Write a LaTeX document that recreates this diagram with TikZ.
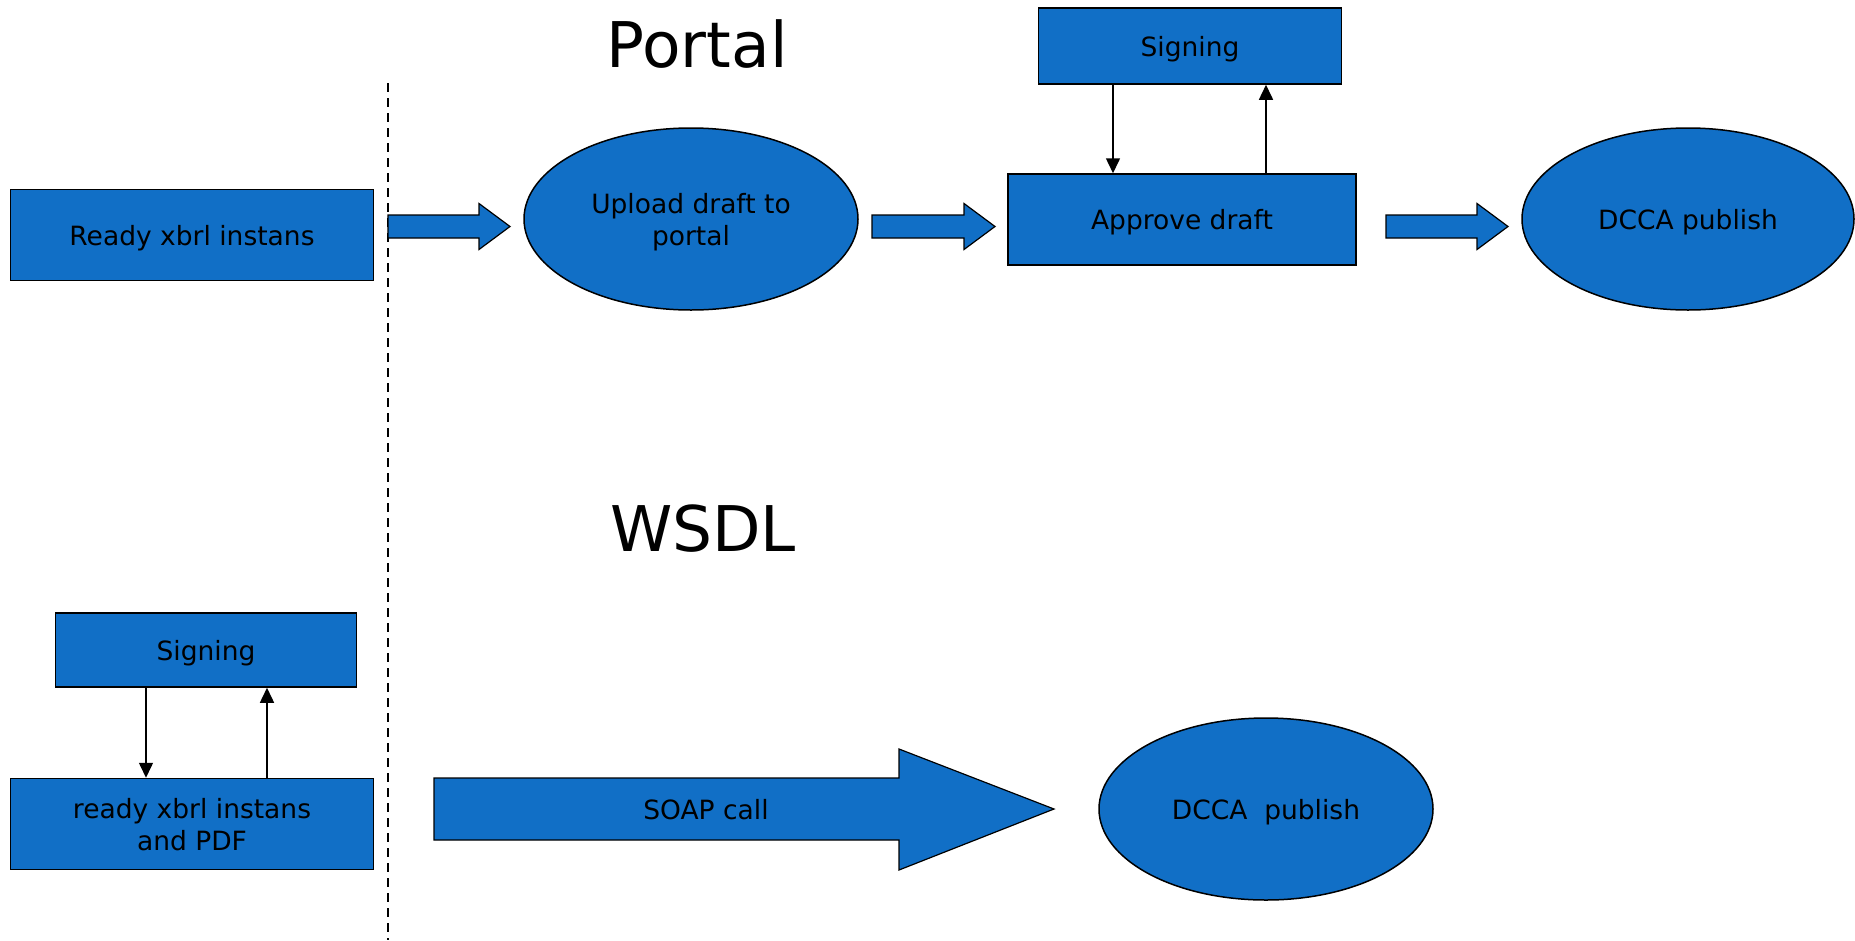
\documentclass[tikz,border=0pt]{standalone}
\usepackage{fontspec}
\setmainfont{DejaVu Sans}
\usetikzlibrary{arrows.meta,shapes.geometric}
\definecolor{boxblue}{RGB}{17,111,198}
\tikzset{
  blockbox/.style={draw=black,line width=1.5pt,fill=boxblue,font=\fontsize{26.5}{32}\selectfont,align=center,inner sep=0pt,text depth=0pt},
  oval/.style={blockbox,ellipse},
  bigarrow/.style={draw=black,line width=1.2pt,fill=boxblue},
  thinarrow/.style={draw=black,line width=1.5pt,-{Triangle[length=15pt,width=14pt]}},
  title/.style={font=\fontsize{63}{70}\selectfont},
  divider/.style={draw=black,line width=1.5pt,dash pattern=on 9pt off 6pt}
}
\begin{document}
\begin{tikzpicture}[x=1pt,y=-1pt]
\useasboundingbox (0,0) rectangle (1855,940);
% titles
\node[title] (portal) at (697,44) {Portal};
\node[title] (wsdl) at (703,529) {WSDL};
% divider
\coordinate (dtop) at (388,83);
\coordinate (dbot) at (388,940);
\draw[divider] (dtop) -- (dbot);
% top row
\node[blockbox,minimum width=363pt,minimum height=91pt] (ready) at (192,235) {Ready xbrl instans};
\node[oval,minimum width=334pt,minimum height=182pt] (upload) at (691,219) {Upload draft to\\portal};
\node[blockbox,minimum width=348pt,minimum height=91pt] (approve) at (1182,219.5) {Approve draft};
\node[blockbox,minimum width=303pt,minimum height=76pt] (signtop) at (1190,46) {Signing};
\node[oval,minimum width=332pt,minimum height=182pt] (dcca) at (1688,219) {DCCA publish};
% block arrows top
\draw[bigarrow] (388,215) -- (479,215) -- (479,203.5) -- (510,226.5) -- (479,249.5) -- (479,238) -- (388,238) -- cycle;
\draw[bigarrow] (872,215) -- (964,215) -- (964,203.5) -- (995,226.5) -- (964,249.5) -- (964,238) -- (872,238) -- cycle;
\draw[bigarrow] (1386,215) -- (1477,215) -- (1477,203.5) -- (1508,226.5) -- (1477,249.5) -- (1477,238) -- (1386,238) -- cycle;
% signing loop top
\draw[thinarrow] (signtop.south -| 1113,0) -- (approve.north -| 1113,0);
\draw[thinarrow] (approve.north -| 1266,0) -- (signtop.south -| 1266,0);
% bottom row
\node[blockbox,minimum width=301pt,minimum height=74pt] (signbot) at (206,650) {Signing};
\node[blockbox,minimum width=363pt,minimum height=91pt] (readypdf) at (192,824) {ready xbrl instans\\and PDF};
\draw[thinarrow] (signbot.south -| 146,0) -- (readypdf.north -| 146,0);
\draw[thinarrow] (readypdf.north -| 267,0) -- (signbot.south -| 267,0);
\draw[bigarrow] (434,778) -- (899,778) -- (899,749) -- (1054,809) -- (899,870) -- (899,840) -- (434,840) -- cycle;
\node[font=\fontsize{26.5}{32}\selectfont] (soap) at (706,810) {SOAP call};
\node[oval,minimum width=334pt,minimum height=182pt] (dcca2) at (1266,809) {DCCA\ \ publish};
\end{tikzpicture}
\end{document}
